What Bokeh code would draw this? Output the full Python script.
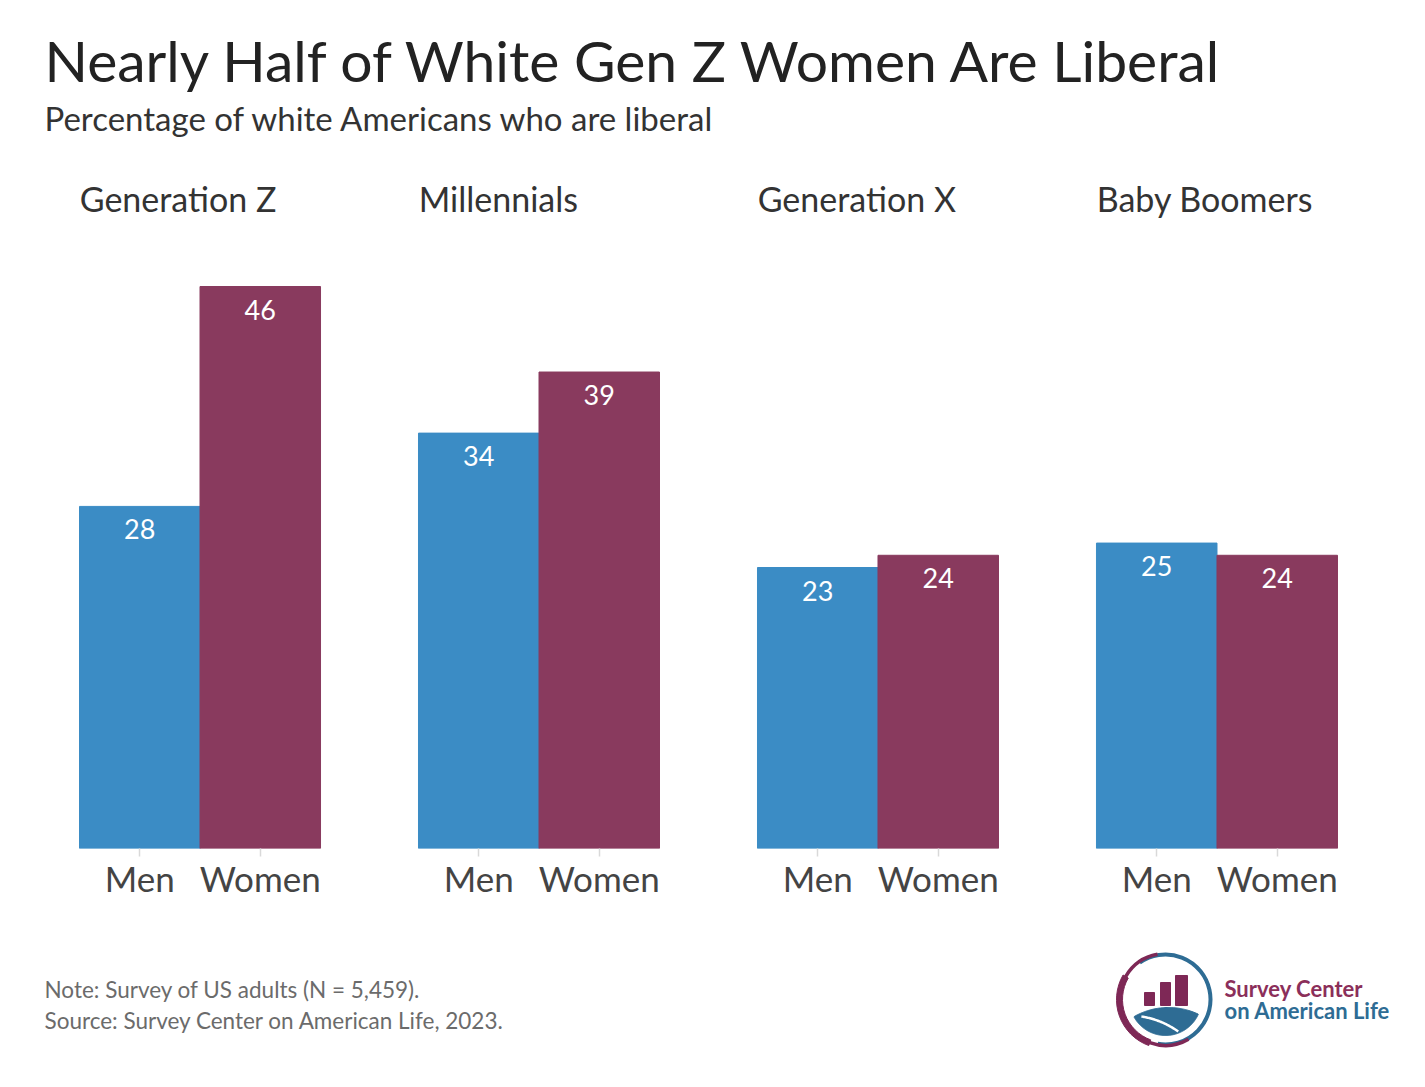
import numpy as np
from bokeh.plotting import figure
from bokeh.models import ColumnDataSource, FactorRange, Range1d, Label
from bokeh.layouts import column
from bokeh.core.properties import value
from bokeh.embed import file_html
from bokeh.resources import INLINE

# ---------------- data ----------------
generations = ["Generation Z", "Millennials", "Generation X", "Baby Boomers"]
sexes = ["Men", "Women"]
men_pct = [28, 34, 23, 25]
women_pct = [46, 39, 24, 24]

title_text = "Nearly Half of White Gen Z Women Are Liberal"
subtitle_text = "Percentage of white Americans who are liberal"
note_text = "Note: Survey of US adults (N = 5,459)."
source_text = "Source: Survey Center on American Life, 2023."
logo_line1 = "Survey Center"
logo_line2 = "on American Life"

BLUE = "#3B8CC5"
MAROON = "#893A5E"
LOGO_MAROON = "#7E2856"
LOGO_BLUE = "#2E6C94"
FONT = "Lato"

# ---------------- main chart ----------------
factors = [(g, s) for g in generations for s in sexes]
vals = []
cols = []
for m, w in zip(men_pct, women_pct):
    vals += [m, w]
    cols += [BLUE, MAROON]

src = ColumnDataSource(dict(x=factors, top=vals, color=cols,
                            label=[str(v) for v in vals]))

x_range = FactorRange(*factors, group_padding=0.813,
                      range_padding=0.6556, range_padding_units="absolute")
y_range = Range1d(0, 69.41)

p = figure(width=1425, height=938, x_range=x_range, y_range=y_range,
           output_backend="svg", toolbar_location=None,
           y_axis_location=None, min_border_left=0, min_border_right=9,
           min_border_top=0, min_border_bottom=90,
           outline_line_color=None, background_fill_color="white",
           border_fill_color="white")
p.grid.visible = False

p.vbar(x="x", top="top", width=1.0, color="color", source=src)

p.text(x="x", y="top", text="label", source=src, text_align="center",
       text_baseline="alphabetic", y_offset=23, text_color="white",
       text_font=value(FONT), text_font_size="27px")

grp_src = ColumnDataSource(dict(x=[(g, "Men") for g in generations],
                                y=[53.2] * len(generations),
                                text=generations))
p.text(x="x", y="y", text="text", source=grp_src, text_align="left",
       text_baseline="alphabetic", x_offset=-60, text_color="#333333",
       text_font=value(FONT), text_font_size="34px")

p.add_layout(Label(x=44, y=64.5, x_units="screen", y_units="data",
                   text=title_text, text_font=FONT, text_font_size="57px",
                   text_color="#222222", text_baseline="alphabetic"))
p.add_layout(Label(x=44, y=59.8, x_units="screen", y_units="data",
                   text=subtitle_text, text_font=FONT, text_font_size="33px",
                   text_color="#333333", text_baseline="alphabetic"))

ax = p.xaxis[0]
ax.axis_line_color = None
ax.major_tick_in = 0
ax.major_tick_out = 8
ax.major_tick_line_color = "#d9d9d9"
ax.major_tick_line_width = 1.5
ax.major_label_standoff = 0
ax.major_label_text_font = FONT
ax.major_label_text_font_size = "35px"
ax.major_label_text_color = "#444444"
ax.group_text_font_size = "0px"
ax.group_text_color = None
ax.separator_line_color = None

# ---------------- footer (notes + logo) ----------------
# frame is aligned with the chart above (0..1416 px wide)
f = figure(width=1425, height=149, x_range=Range1d(0, 1416),
           y_range=Range1d(0, 149), output_backend="svg",
           toolbar_location=None, x_axis_location=None,
           y_axis_location=None, min_border=0, min_border_right=9,
           outline_line_color=None)
f.grid.visible = False

f.text(x=[44, 44], y=[98, 67], text=[note_text, source_text],
       text_font=value(FONT), text_font_size="22.5px", text_color="#6b6b6b",
       text_baseline="alphabetic")

# logo
cx, cy = 1165, 88
f.arc(x=cx, y=cy, radius=45, start_angle=np.deg2rad(125),
      end_angle=np.deg2rad(-100), direction="clock",
      line_color=LOGO_BLUE, line_width=4)
f.annular_wedge(x=cx, y=cy, inner_radius=43, outer_radius=49,
                start_angle=np.deg2rad(150), end_angle=np.deg2rad(250),
                color=LOGO_MAROON)
f.arc(x=cx, y=cy, radius=46, start_angle=np.deg2rad(100),
      end_angle=np.deg2rad(300), direction="anticlock",
      line_color=LOGO_MAROON, line_width=3.5)

f.quad(left=[1144, 1160, 1175], right=[1154, 1170, 1187],
       bottom=[82, 82, 82], top=[95, 105, 112], color=LOGO_MAROON)

# blue field: intersection of two discs
r_small, big_c, R_big = 36, (1168, 10), 70
t = np.linspace(0, 2 * np.pi, 400)
pts = []
for (ccx, ccy, rr), (ox, oy, orr) in [((cx, cy, r_small), (big_c[0], big_c[1], R_big)),
                                      ((big_c[0], big_c[1], R_big), (cx, cy, r_small))]:
    xs = ccx + rr * np.cos(t)
    ys = ccy + rr * np.sin(t)
    m = (xs - ox) ** 2 + (ys - oy) ** 2 <= orr ** 2
    pts += list(zip(xs[m], ys[m]))
pts = np.array(pts)
mx, my = pts[:, 0].mean(), pts[:, 1].mean()
order = np.argsort(np.arctan2(pts[:, 1] - my, pts[:, 0] - mx))
pts = pts[order]
f.patch(x=pts[:, 0], y=pts[:, 1], color=LOGO_BLUE)

for (scx, scy, sr) in [(1128, -13, 85), (1114, -16, 74)]:
    tt = np.linspace(0, np.pi, 300)
    xs = scx + sr * np.cos(tt)
    ys = scy + sr * np.sin(tt)
    inside = (((xs - cx) ** 2 + (ys - cy) ** 2 <= (r_small - 1) ** 2) &
              ((xs - big_c[0]) ** 2 + (ys - big_c[1]) ** 2 <= (R_big - 3) ** 2))
    xs = np.where(inside, xs, np.nan)
    ys = np.where(inside, ys, np.nan)
    f.line(x=xs, y=ys, line_color="white", line_width=2.5)

f.text(x=[1224], y=[99], text=[logo_line1], text_font=value(FONT),
       text_font_style="bold", text_font_size="22px", text_color="#8B2F5A",
       text_baseline="alphabetic")
f.text(x=[1224], y=[77], text=[logo_line2], text_font=value(FONT),
       text_font_style="bold", text_font_size="22px", text_color=LOGO_BLUE,
       text_baseline="alphabetic")

layout = column(p, f, spacing=0)
open("out.html", "w").write(file_html(layout, INLINE))
